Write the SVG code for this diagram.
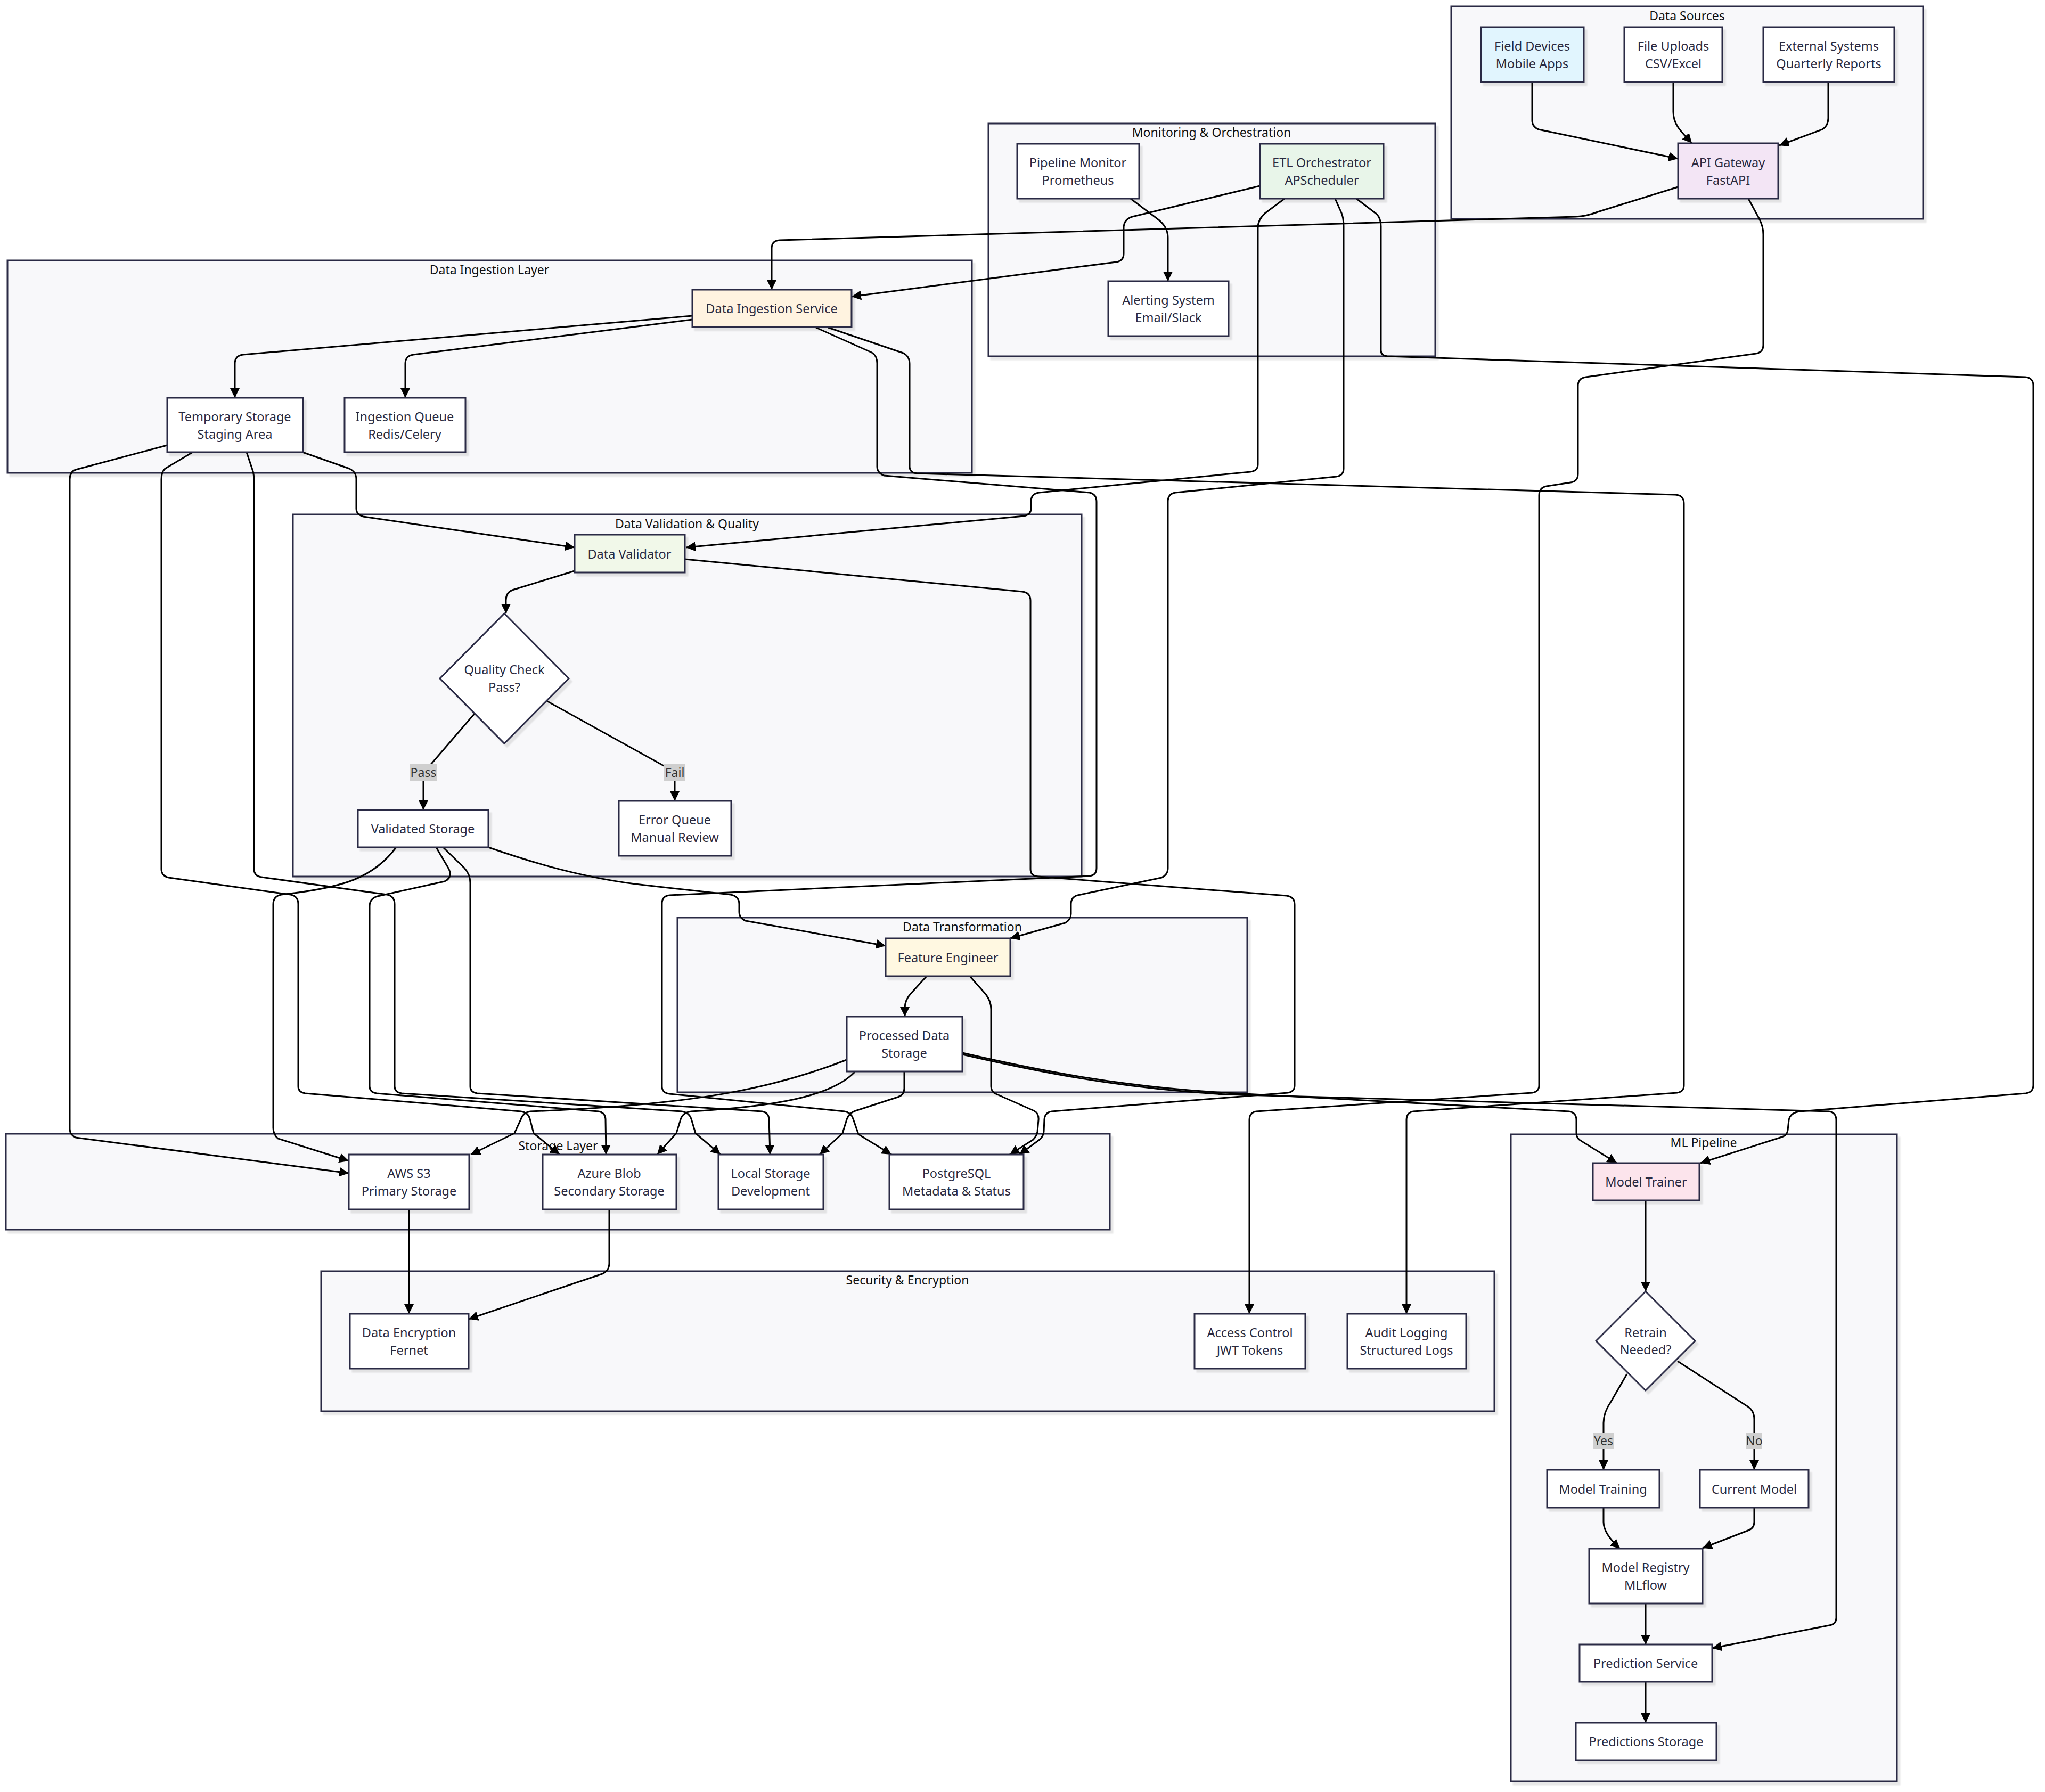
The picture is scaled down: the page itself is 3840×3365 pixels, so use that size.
<svg xmlns="http://www.w3.org/2000/svg" width="3840" height="3365" viewBox="0 0 3840 3365">
  <defs>
    <filter id="shadow" x="-5%" y="-5%" width="115%" height="120%">
      <feDropShadow dx="5" dy="6" stdDeviation="1" flood-color="#000" flood-opacity="0.09"/>
    </filter>
    <marker id="arrow" viewBox="0 0 10 10" refX="10" refY="5" markerUnits="userSpaceOnUse" markerWidth="18" markerHeight="18" orient="auto">
      <path d="M0,0 L10,5 L0,10 z" fill="#000"/>
    </marker>
  </defs>
  <style>
    .cluster rect { fill: #f8f8fa; stroke: #2b2b45; stroke-width: 3; filter: url(#shadow); }
    .cluster text { font-family: "Noto Sans", "Open Sans", sans-serif; font-size: 23px; fill: #111; text-anchor: middle; dominant-baseline: central; }
    .node rect, .node polygon { fill: #fff; stroke: #2b2b45; stroke-width: 3; filter: url(#shadow); }
    .node text { font-family: "Noto Sans", "Open Sans", sans-serif; font-size: 23.5px; fill: #2a2a40; text-anchor: middle; dominant-baseline: central; }
    .edges path { fill: none; stroke: #000; stroke-width: 3; marker-end: url(#arrow); }
    .elabel rect { fill: #cfcfcf; }
    .elabel text { font-family: "Noto Sans", "Open Sans", sans-serif; font-size: 23px; fill: #333; text-anchor: middle; dominant-baseline: central; }
  </style>
  <rect width="3840" height="3365" fill="#fff"/>

  <!-- subgraph frames -->
  <g id="clusters">
    <g id="cluster-sources" class="cluster"><rect x="2725" y="12" width="886" height="399"/><text x="3168" y="29">Data Sources</text></g>
    <g id="cluster-monitoring" class="cluster"><rect x="1856" y="232" width="839" height="437"/><text x="2275" y="248">Monitoring &amp; Orchestration</text></g>
    <g id="cluster-ingestion" class="cluster"><rect x="14" y="489" width="1811" height="399"/><text x="919" y="506">Data Ingestion Layer</text></g>
    <g id="cluster-validation" class="cluster"><rect x="550" y="966" width="1481" height="680"/><text x="1290" y="983">Data Validation &amp; Quality</text></g>
    <g id="cluster-transformation" class="cluster"><rect x="1272" y="1723" width="1070" height="328"/><text x="1807" y="1740">Data Transformation</text></g>
    <g id="cluster-storage" class="cluster"><rect x="11" y="2129" width="2073" height="180"/><text x="1048" y="2151">Storage Layer</text></g>
    <g id="cluster-security" class="cluster"><rect x="603" y="2387" width="2203" height="263"/><text x="1704" y="2403">Security &amp; Encryption</text></g>
    <g id="cluster-ml" class="cluster"><rect x="2837" y="2130" width="725" height="1215"/><text x="3199" y="2145">ML Pipeline</text></g>
  </g>

  <!-- connectors -->
  <g id="edges" class="edges">
    <path id="e-field-api" d="M2877,154 L2877,226 Q2877,238 2889,243 L3151,298"/>
    <path id="e-file-api" d="M3142,154 L3142,210 C3142,236 3160,250 3177,269"/>
    <path id="e-ext-api" d="M3433,154 L3433,222 Q3433,236 3422,243 L3341,273"/>
    <path id="e-api-dis" d="M3151,351 L3000,398 Q2980,406 2958,407 L1464,451 Q1449,452 1449,466 L1449,544"/>
    <path id="e-etl-dis" d="M2366,349 L2126,407 Q2110,412 2110,428 L2110,476 Q2110,490 2096,492 L1599,557"/>
    <path id="e-mon-alert" d="M2123,373 L2172,410 Q2193,425 2193,446 L2193,528"/>
    <path id="e-dis-temp" d="M1300,593 L456,666 Q441,668 441,683 L441,747"/>
    <path id="e-dis-queue" d="M1300,600 L776,666 Q761,668 761,683 L761,747"/>
    <path id="e-dis-pg" d="M1532,615 L1637,662 Q1647,668 1647,682 L1647,876 Q1647,888 1660,893 L2046,925 Q2059,928 2059,942 L2059,1630 Q2059,1644 2045,1645 L1258,1681 Q1243,1682 1243,1697 L1243,2040 Q1243,2052 1257,2054 L1586,2087 Q1598,2089 1602,2101 L1612,2130 L1674,2168"/>
    <path id="e-dis-audit" d="M1555,615 L1696,663 Q1708,669 1708,683 L1708,876 Q1708,888 1722,889 L3146,929 Q3162,930 3162,946 L3162,2038 Q3162,2050 3149,2052 L2654,2087 Q2641,2089 2641,2103 L2641,2467"/>
    <path id="e-api-access" d="M3283,373 L3303,410 Q3311,425 3311,440 L3311,648 Q3311,662 3297,664 L2978,708 Q2963,710 2963,725 L2963,890 Q2963,904 2949,906 L2904,913 Q2890,916 2890,930 L2890,2038 Q2890,2050 2877,2052 L2359,2087 Q2346,2089 2346,2103 L2346,2467"/>
    <path id="e-etl-dv" d="M2412,373 L2376,400 Q2362,412 2362,428 L2362,872 Q2362,884 2348,886 L1951,925 Q1936,927 1936,942 L1936,955 Q1936,966 1923,969 L1288,1028"/>
    <path id="e-etl-fe" d="M2507,373 L2519,400 Q2523,410 2523,425 L2523,880 Q2523,893 2509,895 L2207,925 Q2193,927 2193,942 L2193,1630 Q2193,1643 2181,1648 L2024,1681 Q2011,1684 2011,1698 L2011,1716 Q2011,1727 2000,1733 L1897,1762"/>
    <path id="e-etl-mt" d="M2547,373 L2585,402 Q2593,410 2593,425 L2593,658 Q2593,668 2605,669 L3803,708 Q3818,709 3818,724 L3818,2038 Q3818,2051 3804,2053 L3380,2087 Q3362,2089 3359,2103 L3357,2122 Q3356,2132 3346,2135 L3193,2184"/>
    <path id="e-temp-dv" d="M568,849 L656,880 Q669,886 669,900 L669,955 Q669,966 682,970 L1079,1028"/>
    <path id="e-temp-s3" d="M314,836 L142,882 Q131,886 131,900 L131,2120 Q131,2131 142,2136 L655,2203"/>
    <path id="e-temp-azure" d="M362,849 L310,880 Q303,886 303,900 L303,1632 Q303,1645 317,1648 L546,1680 Q560,1683 560,1698 L560,2040 Q560,2051 573,2053 L978,2087 Q992,2089 995,2101 L1002,2128 L1051,2168"/>
    <path id="e-temp-local" d="M463,849 L475,885 Q477,892 477,905 L477,1632 Q477,1645 491,1647 L727,1680 Q741,1683 741,1698 L741,2040 Q741,2051 754,2053 L1280,2087 Q1294,2089 1298,2101 L1306,2128 L1353,2168"/>
    <path id="e-dv-qc" d="M1079,1072 L962,1108 Q950,1113 950,1127 L950,1152"/>
    <path id="e-qc-vs" d="M892,1339 L805,1440 Q795,1452 795,1465 L795,1521"/>
    <path id="e-qc-err" d="M1028,1317 L1250,1440 Q1267,1450 1267,1465 L1267,1504"/>
    <path id="e-dv-pg" d="M1286,1050 L1920,1111 Q1935,1113 1935,1128 L1935,1632 Q1935,1645 1949,1646 L2416,1682 Q2431,1684 2431,1699 L2431,2038 Q2431,2050 2418,2052 L1975,2087 Q1962,2089 1961,2102 L1960,2125 Q1959,2134 1952,2140 L1914,2168"/>
    <path id="e-vs-fe" d="M917,1591 C1000,1620 1100,1650 1210,1662 L1372,1680 Q1388,1683 1388,1698 L1388,1712 Q1388,1724 1400,1729 L1663,1776"/>
    <path id="e-vs-s3" d="M744,1591 C700,1650 640,1665 560,1676 L528,1680 Q513,1683 513,1698 L513,2118 Q513,2130 522,2138 L655,2180"/>
    <path id="e-vs-azure" d="M819,1591 L843,1632 Q850,1648 835,1655 L709,1683 Q694,1687 694,1702 L694,2040 Q694,2051 707,2053 L1124,2087 Q1136,2089 1137,2101 L1138,2168"/>
    <path id="e-vs-local" d="M832,1591 L872,1630 Q883,1642 883,1658 L883,2040 Q883,2051 896,2053 L1431,2087 Q1443,2089 1444,2101 L1446,2168"/>
    <path id="e-fe-pds" d="M1740,1833 L1710,1866 Q1699,1878 1699,1893 L1699,1909"/>
    <path id="e-fe-pg" d="M1821,1833 L1851,1867 Q1861,1880 1861,1895 L1861,2040 Q1861,2050 1870,2054 L1942,2086 Q1951,2091 1950,2103 L1948,2125 Q1947,2133 1940,2140 L1896,2168"/>
    <path id="e-pds-s3" d="M1590,1990 C1450,2045 1300,2075 996,2087 Q982,2089 978,2102 L966,2128 L884,2168"/>
    <path id="e-pds-azure" d="M1605,2013 C1560,2060 1450,2078 1298,2087 Q1282,2089 1278,2102 L1270,2128 L1234,2168"/>
    <path id="e-pds-local" d="M1698,2013 L1698,2044 Q1698,2056 1686,2060 L1606,2086 Q1594,2090 1590,2102 L1582,2128 L1539,2168"/>
    <path id="e-pds-mt" d="M1807,1977 C1950,2010 2100,2040 2300,2052 L2946,2087 Q2960,2089 2960,2103 L2960,2128 Q2960,2138 2970,2143 L3036,2184"/>
    <path id="e-pds-ps" d="M1807,1980 C1950,2013 2100,2043 2300,2055 L3434,2087 Q3448,2089 3448,2103 L3448,3038 Q3448,3050 3435,3052 L3215,3095"/>
    <path id="e-s3-enc" d="M768,2271 L768,2467"/>
    <path id="e-azure-enc" d="M1144,2271 L1144,2372 Q1144,2386 1131,2392 L880,2477"/>
    <path id="e-mt-retrain" d="M3090,2254 L3090,2425"/>
    <path id="e-retrain-training" d="M3055,2580 L3025,2632 Q3011,2652 3011,2672 L3011,2760"/>
    <path id="e-retrain-current" d="M3150,2556 L3280,2640 Q3294,2648 3294,2665 L3294,2760"/>
    <path id="e-training-registry" d="M3011,2831 L3011,2858 Q3011,2880 3042,2908"/>
    <path id="e-current-registry" d="M3294,2831 L3294,2858 Q3294,2870 3282,2874 L3197,2907"/>
    <path id="e-registry-ps" d="M3090,3011 L3090,3088"/>
    <path id="e-ps-storage" d="M3090,3158 L3090,3235"/>
  </g>

  <!-- edge labels -->
  <g id="edge-labels">
    <g class="elabel"><rect x="769" y="1434" width="52" height="32"/><text x="795" y="1450">Pass</text></g>
    <g class="elabel"><rect x="1247" y="1434" width="40" height="32"/><text x="1267" y="1450">Fail</text></g>
    <g class="elabel"><rect x="2991" y="2690" width="40" height="30"/><text x="3011" y="2705">Yes</text></g>
    <g class="elabel"><rect x="3279" y="2690" width="30" height="30"/><text x="3294" y="2705">No</text></g>
  </g>

  <!-- nodes -->
  <g id="nodes">
    <g id="n-field" class="node"><rect x="2781" y="51" width="193" height="103" style="fill:#e1f5fe"/><text x="2877" y="86">Field Devices</text><text x="2877" y="119">Mobile Apps</text></g>
    <g id="n-file" class="node"><rect x="3050" y="51" width="184" height="103"/><text x="3142" y="86">File Uploads</text><text x="3142" y="119">CSV/Excel</text></g>
    <g id="n-external" class="node"><rect x="3311" y="51" width="246" height="103"/><text x="3434" y="86">External Systems</text><text x="3434" y="119">Quarterly Reports</text></g>
    <g id="n-api" class="node"><rect x="3151" y="269" width="188" height="104" style="fill:#f3e5f5"/><text x="3245" y="305">API Gateway</text><text x="3245" y="338">FastAPI</text></g>
    <g id="n-monitor" class="node"><rect x="1910" y="270" width="229" height="103"/><text x="2024" y="305">Pipeline Monitor</text><text x="2024" y="338">Prometheus</text></g>
    <g id="n-etl" class="node"><rect x="2366" y="270" width="232" height="103" style="fill:#e8f5e9"/><text x="2482" y="305">ETL Orchestrator</text><text x="2482" y="338">APScheduler</text></g>
    <g id="n-alert" class="node"><rect x="2081" y="528" width="226" height="103"/><text x="2194" y="563">Alerting System</text><text x="2194" y="596">Email/Slack</text></g>
    <g id="n-dis" class="node"><rect x="1300" y="544" width="299" height="70" style="fill:#fff3e0"/><text x="1449" y="579">Data Ingestion Service</text></g>
    <g id="n-temp" class="node"><rect x="314" y="747" width="255" height="102"/><text x="441" y="782">Temporary Storage</text><text x="441" y="815">Staging Area</text></g>
    <g id="n-queue" class="node"><rect x="647" y="747" width="227" height="102"/><text x="760" y="782">Ingestion Queue</text><text x="760" y="815">Redis/Celery</text></g>
    <g id="n-validator" class="node"><rect x="1079" y="1004" width="207" height="71" style="fill:#f1f8e9"/><text x="1182" y="1040">Data Validator</text></g>
    <g id="n-quality" class="node"><polygon points="947,1152 1068,1274 947,1396 826,1274"/><text x="947" y="1257">Quality Check</text><text x="947" y="1290">Pass?</text></g>
    <g id="n-validated" class="node"><rect x="672" y="1521" width="245" height="70"/><text x="794" y="1556">Validated Storage</text></g>
    <g id="n-error" class="node"><rect x="1162" y="1504" width="211" height="103"/><text x="1267" y="1539">Error Queue</text><text x="1267" y="1572">Manual Review</text></g>
    <g id="n-feature" class="node"><rect x="1663" y="1762" width="234" height="71" style="fill:#fff8e1"/><text x="1780" y="1798">Feature Engineer</text></g>
    <g id="n-processed" class="node"><rect x="1590" y="1909" width="217" height="103"/><text x="1698" y="1944">Processed Data</text><text x="1698" y="1977">Storage</text></g>
    <g id="n-s3" class="node"><rect x="655" y="2168" width="226" height="103"/><text x="768" y="2203">AWS S3</text><text x="768" y="2236">Primary Storage</text></g>
    <g id="n-azure" class="node"><rect x="1019" y="2168" width="251" height="103"/><text x="1144" y="2203">Azure Blob</text><text x="1144" y="2236">Secondary Storage</text></g>
    <g id="n-local" class="node"><rect x="1349" y="2168" width="197" height="103"/><text x="1447" y="2203">Local Storage</text><text x="1447" y="2236">Development</text></g>
    <g id="n-postgres" class="node"><rect x="1670" y="2168" width="252" height="103"/><text x="1796" y="2203">PostgreSQL</text><text x="1796" y="2236">Metadata &amp; Status</text></g>
    <g id="n-encryption" class="node"><rect x="657" y="2467" width="223" height="103"/><text x="768" y="2502">Data Encryption</text><text x="768" y="2535">Fernet</text></g>
    <g id="n-access" class="node"><rect x="2243" y="2467" width="208" height="103"/><text x="2347" y="2502">Access Control</text><text x="2347" y="2535">JWT Tokens</text></g>
    <g id="n-audit" class="node"><rect x="2530" y="2467" width="223" height="103"/><text x="2641" y="2502">Audit Logging</text><text x="2641" y="2535">Structured Logs</text></g>
    <g id="n-trainer" class="node"><rect x="2991" y="2184" width="200" height="70" style="fill:#fce4ec"/><text x="3091" y="2219">Model Trainer</text></g>
    <g id="n-retrain" class="node"><polygon points="3090,2425 3183,2518 3090,2611 2997,2518"/><text x="3090" y="2502">Retrain</text><text x="3090" y="2534">Needed?</text></g>
    <g id="n-training" class="node"><rect x="2905" y="2760" width="211" height="71"/><text x="3010" y="2796">Model Training</text></g>
    <g id="n-current" class="node"><rect x="3192" y="2760" width="204" height="71"/><text x="3294" y="2796">Current Model</text></g>
    <g id="n-registry" class="node"><rect x="2984" y="2908" width="213" height="103"/><text x="3090" y="2943">Model Registry</text><text x="3090" y="2976">MLflow</text></g>
    <g id="n-prediction" class="node"><rect x="2966" y="3088" width="249" height="70"/><text x="3090" y="3123">Prediction Service</text></g>
    <g id="n-predstore" class="node"><rect x="2959" y="3235" width="264" height="70"/><text x="3091" y="3270">Predictions Storage</text></g>
  </g>
</svg>
